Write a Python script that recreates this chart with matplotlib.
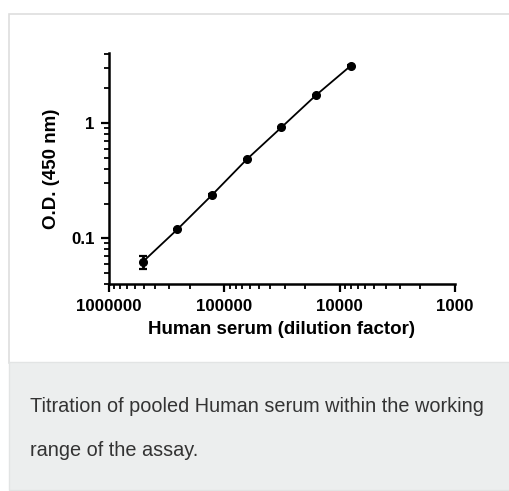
import matplotlib
matplotlib.use("Agg")
import matplotlib.pyplot as plt
from matplotlib.patches import Rectangle
from matplotlib.ticker import LogLocator, FixedLocator, FixedFormatter, NullFormatter

plt.rcParams['font.family'] = ['Liberation Sans', 'DejaVu Sans']

dilution = [512000, 256000, 128000, 64000, 32000, 16000, 8000]
od = [0.062, 0.119, 0.237, 0.483, 0.917, 1.75, 3.15]
od_err = [0.0075, 0.002, 0.003, 0.005, 0.01, 0.02, 0.03]
x_ticks = [1000000, 100000, 10000, 1000]
x_tick_labels = ["1000000", "100000", "10000", "1000"]
y_ticks = [0.1, 1]
y_tick_labels = ["0.1", "1"]
caption_lines = ["Titration of pooled Human serum within the working", "range of the assay."]

W, H = 510, 491
fig = plt.figure(figsize=(W / 100, H / 100), dpi=100)
fig.patch.set_facecolor("white")

def px(x0, y0, w, h):
    return (x0 / W, 1 - (y0 + h) / H, w / W, h / H)

# card border (white area)
x0, y0, w, h = px(9.5, 13.5, 520, 349)
fig.patches.append(Rectangle((x0, y0), w, h, transform=fig.transFigure,
                             facecolor="white", edgecolor="#dedede", lw=1.2, zorder=-2))
# caption grey area
x0, y0, w, h = px(9, 362, 520, 128)
fig.patches.append(Rectangle((x0, y0), w, h, transform=fig.transFigure,
                             facecolor="#eceeee", edgecolor="#e2e4e4", lw=1.0, zorder=-2))

fig.text(30 / W, 1 - 406 / H, caption_lines[0],
         fontsize=14.3, color="#333333", va="center", ha="left")
fig.text(30 / W, 1 - 451 / H, caption_lines[1],
         fontsize=14.3, color="#333333", va="center", ha="left")

ax = fig.add_axes([109 / W, 1 - 284 / H, (455 - 109) / W, (284 - 53) / H])
ax.set_zorder(2)
ax.set_facecolor("none")
ax.errorbar(dilution, od, yerr=od_err, color="black", marker="o", markersize=5.5,
            lw=1.3, capsize=3, elinewidth=2.0, capthick=1.6)
ax.set_xscale("log")
ax.set_yscale("log")
ax.set_xlim(1000000, 1000)
ax.set_ylim(0.04, 4.06)

ax.xaxis.set_major_locator(FixedLocator(x_ticks))
ax.xaxis.set_major_formatter(FixedFormatter(x_tick_labels))
ax.xaxis.set_minor_locator(LogLocator(base=10, subs=range(2, 10), numticks=20))
ax.xaxis.set_minor_formatter(NullFormatter())
ax.yaxis.set_major_locator(FixedLocator(y_ticks))
ax.yaxis.set_major_formatter(FixedFormatter(y_tick_labels))
ax.yaxis.set_minor_locator(LogLocator(base=10, subs=range(2, 10), numticks=20))
ax.yaxis.set_minor_formatter(NullFormatter())

for s in ["top", "right"]:
    ax.spines[s].set_visible(False)
for s in ["left", "bottom"]:
    ax.spines[s].set_linewidth(1.8)
ax.tick_params(which="major", length=6, width=1.6, direction="out", labelsize=12.2, pad=4.5)
ax.tick_params(which="minor", length=3.5, width=1.3, direction="out")
for lab in ax.get_xticklabels() + ax.get_yticklabels():
    lab.set_fontweight("bold")

ax.set_xlabel("Human serum (dilution factor)", fontsize=13.5, fontweight="bold", labelpad=5)
ax.set_ylabel("O.D. (450 nm)", fontsize=13.5, fontweight="bold", labelpad=8)

fig.savefig("out.png", dpi=100)
